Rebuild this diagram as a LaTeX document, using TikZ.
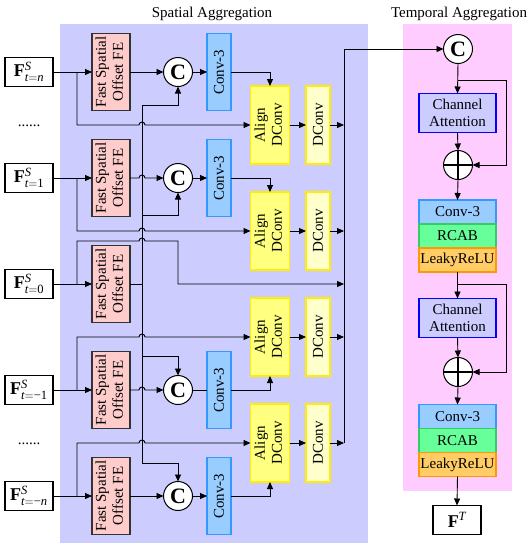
\documentclass[tikz,border=0pt]{standalone}
\usepackage{fontspec}
\usepackage{amsmath}
\usepackage{graphicx}
\setmainfont{Liberation Serif}
\usetikzlibrary{arrows.meta,calc}
\definecolor{spbg}{HTML}{CCCCFF}
\definecolor{tpbg}{HTML}{FFCCFF}
\definecolor{fsofill}{HTML}{FFCCCC}
\definecolor{fsodraw}{HTML}{333333}
\definecolor{convfill}{HTML}{99CCFF}
\definecolor{convdraw}{HTML}{3399FF}
\definecolor{alfill}{HTML}{FFFF80}
\definecolor{yeldraw}{HTML}{FFEE00}
\definecolor{dcfill}{HTML}{FFFFCC}
\definecolor{rcabfill}{HTML}{66FF99}
\definecolor{rcabdraw}{HTML}{33CC66}
\definecolor{lrfill}{HTML}{FFCC66}
\definecolor{lrdraw}{HTML}{FF9900}
\definecolor{cadraw}{HTML}{0000FF}
\definecolor{cafill}{HTML}{CCCCFF}
\newcommand{\inlab}[2]{{\fontsize{18}{20}\selectfont\textbf{F}$^{\textit{S}\vphantom{T}}_{\vphantom{T}#2}$}}
\newcommand{\fsotext}{\rotatebox{90}{\begin{tabular}{@{}c@{}}Fast Spatial\\Offset FE\end{tabular}}}
\begin{document}
\begin{tikzpicture}[x=1pt,y=-1pt,line width=0.9pt,
  every node/.style={inner sep=0pt, outer sep=0pt, font=\fontsize{15}{17}\selectfont},
  arr/.style={-{Triangle[length=7pt,width=6pt]}},
  inbox/.style={draw=black, line width=1.1pt, fill=white, minimum width=48pt, minimum height=29pt},
  fsobox/.style={draw=fsodraw, line width=1.1pt, fill=fsofill, minimum width=38pt, minimum height=77pt},
  ccirc/.style={circle, draw=black, line width=1pt, fill=white, minimum size=29pt, font=\fontsize{22}{22}\selectfont\bfseries},
  pcirc/.style={circle, draw=black, line width=1pt, fill=white, minimum size=29pt},
  convbox/.style={draw=convdraw, line width=1.1pt, fill=convfill, minimum width=24pt, minimum height=77pt},
  albox/.style={draw=yeldraw, line width=1.1pt, fill=alfill, minimum width=39pt, minimum height=78pt},
  dcbox/.style={draw=yeldraw, line width=1.1pt, fill=dcfill, minimum width=24pt, minimum height=78pt},
  cabox/.style={draw=cadraw, line width=1.5pt, fill=cafill, minimum width=77pt, minimum height=39pt, align=center},
  tconv/.style={draw=convdraw, line width=1.1pt, fill=convfill, minimum width=77pt, minimum height=24pt},
  trcab/.style={draw=rcabdraw, line width=1.1pt, fill=rcabfill, minimum width=77pt, minimum height=24pt},
  tlr/.style={draw=lrdraw, line width=1.1pt, fill=lrfill, minimum width=77pt, minimum height=24pt}
]
\useasboundingbox (0,0) rectangle (532,550);
% panels
\fill[spbg] (60,24) rectangle (368,543);
\fill[tpbg] (403,24) rectangle (512,491);
\node (tsp) at (212,14) {Spatial Aggregation};
\node (ttp) at (459,14) {Temporal Aggregation};

% helper coordinates
\coordinate (vx) at (142,0);
\coordinate (bx) at (77,0);
\coordinate (bus) at (344,0);

% inputs
\node[inbox] (ia) at (29,72) {\inlab{S}{\textit{t}=\textit{n}}};
\node[inbox] (ib) at (29,178) {\inlab{S}{\textit{t}=\text{1}}};
\node[inbox] (iz) at (29,284) {\inlab{S}{\textit{t}=\text{0}}};
\node[inbox] (id) at (29,390) {\inlab{S}{\textit{t}=\text{−1}}};
\node[inbox] (ie) at (29,496) {\inlab{S}{\textit{t}=\text{−}\textit{n}}};
\node (dots1) at (29,126) {......};
\node (dots2) at (29,444) {......};

% FSO FE
\node[fsobox] (fa) at (111,72) {\fsotext};
\node[fsobox] (fb) at (111,178) {\fsotext};
\node[fsobox] (fz) at (111,284) {\fsotext};
\node[fsobox] (fd) at (111,390) {\fsotext};
\node[fsobox] (fe) at (111,496) {\fsotext};

% concat circles
\node[ccirc] (ca) at (178,72) {C};
\node[ccirc] (cb) at (178,178) {C};
\node[ccirc] (cd) at (178,390) {C};
\node[ccirc] (ce) at (178,496) {C};

% conv-3
\node[convbox] (va) at (219,72) {\rotatebox{90}{Conv-3}};
\node[convbox] (vb) at (219,178) {\rotatebox{90}{Conv-3}};
\node[convbox] (vd) at (219,390) {\rotatebox{90}{Conv-3}};
\node[convbox] (ve) at (219,496) {\rotatebox{90}{Conv-3}};

% align dconv
\node[albox] (a1) at (270,125) {\rotatebox{90}{\begin{tabular}{@{}c@{}}Align\\DConv\end{tabular}}};
\node[albox] (a2) at (270,231) {\rotatebox{90}{\begin{tabular}{@{}c@{}}Align\\DConv\end{tabular}}};
\node[albox] (a3) at (270,337) {\rotatebox{90}{\begin{tabular}{@{}c@{}}Align\\DConv\end{tabular}}};
\node[albox] (a4) at (270,443) {\rotatebox{90}{\begin{tabular}{@{}c@{}}Align\\DConv\end{tabular}}};

% dconv
\node[dcbox] (d1) at (318,125) {\rotatebox{90}{DConv}};
\node[dcbox] (d2) at (318,231) {\rotatebox{90}{DConv}};
\node[dcbox] (d3) at (318,337) {\rotatebox{90}{DConv}};
\node[dcbox] (d4) at (318,443) {\rotatebox{90}{DConv}};

% temporal nodes
\node[ccirc] (tc) at (458,49) {C};
\node[cabox] (ca1) at (457.5,113) {Channel\\Attention};
\node[pcirc] (p1) at (458,165) {};
\node[tconv] (tv1) at (457.5,212) {Conv-3};
\node[trcab] (tr1) at (457.5,236) {RCAB};
\node[tlr] (tl1) at (457.5,260) {LeakyReLU};
\node[cabox] (ca2) at (457.5,318) {Channel\\Attention};
\node[pcirc] (p2) at (458,372) {};
\node[tconv] (tv2) at (457.5,416.5) {Conv-3};
\node[trcab] (tr2) at (457.5,440.5) {RCAB};
\node[tlr] (tl2) at (457.5,464.5) {LeakyReLU};
\node[inbox] (ft) at (457,520) {{\fontsize{18}{20}\selectfont\textbf{F}$^{\textit{T}}$}};
\draw[line width=1.8pt] (p1.north) -- (p1.south) (p1.west) -- (p1.east);
\draw[line width=1.8pt] (p2.north) -- (p2.south) (p2.west) -- (p2.east);

% --- spatial connectors ---
\draw[arr] (ia.east) -- (fa.west);
\draw[arr] (ib.east) -- (fb.west);
\draw[arr] (iz.east) -- (fz.west);
\draw[arr] (id.east) -- (fd.west);
\draw[arr] (ie.east) -- (fe.west);

% branches to align
\draw[arr] (bx |- ia.east) -- (bx |- a1.west) -- ([xshift=-3pt]vx |- a1.west) arc[start angle=180,end angle=0,radius=3pt] -- (a1.west);
\draw[arr] (bx |- ib.east) -- (bx |- a2.west) -- ([xshift=-3pt]vx |- a2.west) arc[start angle=180,end angle=0,radius=3pt] -- (a2.west);
\draw[arr] (bx |- id.east) -- (bx |- a3.west) -- ([xshift=-3pt]vx |- a3.west) arc[start angle=180,end angle=0,radius=3pt] -- (a3.west);
\draw[arr] (bx |- ie.east) -- (bx |- a4.west) -- ([xshift=-3pt]vx |- a4.west) arc[start angle=180,end angle=0,radius=3pt] -- (a4.west);

% reference frame branch to bus
\coordinate (k0) at (178,241);
\draw[arr] (bx |- iz.east) -- (bx |- k0) -- ([xshift=-3pt]vx |- k0) arc[start angle=180,end angle=0,radius=3pt] -- (k0) -- (k0 |- iz.east) -- (bus |- iz.east);

% shared offset feature
\coordinate (k1) at (142,105);
\coordinate (k2) at (142,215);
\coordinate (k3) at (142,356);
\coordinate (k4) at (142,463);
\draw (fz.east) -- (vx |- fz.east);
\draw[arr] (vx |- fz.east) -- (k1) -| (ca.south);
\draw[arr] (k2) -| (cb.south);
\draw[arr] (k3) -| (cd.north);
\draw[arr] (vx |- fz.east) -- (k4) -| (ce.north);

% FSO to C
\draw[arr] (fa.east) -- (ca.west);
\draw[arr] (fb.east) -- ([xshift=-3pt]vx |- fb.east) arc[start angle=180,end angle=0,radius=3pt] -- (cb.west);
\draw[arr] (fd.east) -- ([xshift=-3pt]vx |- fd.east) arc[start angle=180,end angle=0,radius=3pt] -- (cd.west);
\draw[arr] (fe.east) -- (ce.west);

% C to conv
\draw[arr] (ca.east) -- (va.west);
\draw[arr] (cb.east) -- (vb.west);
\draw (cd.east) -- (vd.west);
\draw[arr] (ce.east) -- (ve.west);

% conv to align
\draw[arr] (va.east) -| (a1.north);
\draw[arr] (vb.east) -| (a2.north);
\draw[arr] (vd.east) -| (a3.south);
\draw[arr] (ve.east) -| (a4.south);

% align to dconv to bus
\draw[arr] (a1.east) -- (d1.west);
\draw[arr] (a2.east) -- (d2.west);
\draw[arr] (a3.east) -- (d3.west);
\draw[arr] (a4.east) -- (d4.west);
\draw[arr] (d1.east) -- (bus |- d1.east);
\draw[arr] (d2.east) -- (bus |- d2.east);
\draw[arr] (d3.east) -- (bus |- d3.east);
\draw[arr] (d4.east) -- (bus |- d4.east);

% bus to temporal concat
\draw[arr] (bus |- d4.east) -- (bus |- tc.west) -- (tc.west);

% --- temporal connectors ---
\coordinate (rx) at (506,0);
\coordinate (j1) at (458,80);
\coordinate (j2) at (458,284);
\draw[arr] (tc.south) -- (ca1.north);
\draw[arr] (j1) -- (rx |- j1) -- (rx |- p1.east) -- (p1.east);
\draw[arr] (ca1.south) -- (p1.north);
\draw[arr] (p1.south) -- (tv1.north);
\draw[arr] (tl1.south) -- (ca2.north);
\draw[arr] (j2) -- (rx |- j2) -- (rx |- p2.east) -- (p2.east);
\draw[arr] (ca2.south) -- (p2.north);
\draw[arr] (p2.south) -- (tv2.north);
\draw[arr] (tl2.south) -- (ft.north);
\end{tikzpicture}
\end{document}
